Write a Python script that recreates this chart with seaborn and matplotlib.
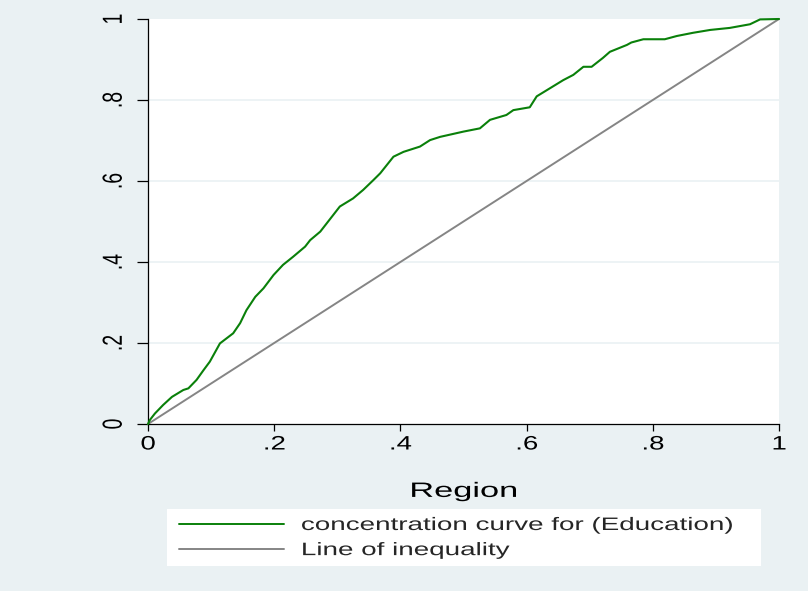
import numpy as np
import pandas as pd
import seaborn as sns
import matplotlib
matplotlib.use("Agg")
import matplotlib.pyplot as plt
from matplotlib import patheffects
from matplotlib.lines import Line2D
from matplotlib.patches import Rectangle
from matplotlib.transforms import Affine2D

# Cumulative share of population (x) vs cumulative share of education (y)
conc_x = [0, .003, .011, .024, .038, .056, .064, .077, .088, .098, .114, .135,
          .146, .156, .170, .183, .199, .214, .230, .249, .257, .273, .283,
          .304, .325, .341, .357, .368, .389, .405, .431, .447, .463, .500,
          .526, .542, .568, .579, .605, .616, .637, .658, .674, .690, .703,
          .721, .732, .759, .766, .785, .819, .838, .864, .891, .922, .954,
          .970, 1.0]
conc_y = [0, .010, .026, .047, .067, .084, .088, .109, .133, .154, .199, .224,
          .249, .281, .314, .335, .368, .393, .413, .438, .454, .475, .495,
          .537, .557, .578, .602, .619, .660, .672, .685, .701, .709, .722,
          .730, .751, .763, .775, .782, .809, .829, .849, .862, .882, .882,
          .904, .919, .936, .942, .950, .950, .958, .966, .973, .978, .987,
          .999, 1.0]
equal_x = [0, 1]
equal_y = [0, 1]

tick_values = [0, .2, .4, .6, .8, 1]
tick_labels = ["0", ".2", ".4", ".6", ".8", "1"]
x_title = "Region"
series_labels = ["concentration curve for (Education)", "Line of inequality"]

BG = "#EAF1F3"
GREEN = "#0A800A"
GRAY = "#858585"


class WideText(patheffects.AbstractPathEffect):
    """Draw text glyphs widened horizontally about a chosen anchor."""

    def __init__(self, sx, anchor="center"):
        super().__init__()
        self.sx = sx
        self.anchor = anchor

    def draw_path(self, renderer, gc, tpath, affine, rgbFace=None):
        verts = affine.transform(tpath.vertices) if len(tpath.vertices) else None
        if verts is None:
            renderer.draw_path(gc, tpath, affine, rgbFace)
            return
        x0, x1 = verts[:, 0].min(), verts[:, 0].max()
        cx = {"left": x0, "right": x1}.get(self.anchor, (x0 + x1) / 2)
        wide = affine + Affine2D().translate(-cx, 0).scale(self.sx, 1).translate(cx, 0)
        renderer.draw_path(gc, tpath, wide, rgbFace)


sns.set_theme(style="ticks")
plt.rcParams["font.family"] = ["Liberation Sans", "DejaVu Sans"]

W, H = 808, 591
fig = plt.figure(figsize=(W / 100, H / 100), dpi=100, facecolor=BG)
ax = fig.add_axes([148 / W, 1 - 424 / H, 631 / W, 405 / H])
ax.set_facecolor("white")

df_conc = pd.DataFrame({"p": conc_x, "L": conc_y})
df_eq = pd.DataFrame({"p": equal_x, "L": equal_y})

for yv in tick_values[1:-1]:
    ax.axhline(yv, color=BG, lw=1.2, zorder=0.5)

sns.lineplot(data=df_conc, x="p", y="L", ax=ax, color=GREEN, lw=1.5,
             sort=False, estimator=None, clip_on=False, zorder=3)
sns.lineplot(data=df_eq, x="p", y="L", ax=ax, color=GRAY, lw=1.4,
             sort=False, estimator=None, clip_on=False, zorder=2)

ax.set_xlim(0, 1)
ax.set_ylim(0, 1)
ax.set_xticks(tick_values, labels=tick_labels)
ax.set_yticks(tick_values, labels=tick_labels)
ax.set_ylabel("")

for side in ("top", "right"):
    ax.spines[side].set_visible(False)
for side in ("left", "bottom"):
    ax.spines[side].set_color("black")
    ax.spines[side].set_linewidth(0.9)

ax.tick_params(axis="x", length=5, width=0.9, color="black", pad=4,
               labelsize=14, labelcolor="black")
ax.tick_params(axis="y", length=8, width=0.9, color="black", pad=8,
               labelsize=14, labelcolor="black")
plt.setp(ax.get_xticklabels(), path_effects=[WideText(1.42, "center")])
plt.setp(ax.get_yticklabels(), rotation=90, va="center", ha="right",
         path_effects=[WideText(1.42, "right")])

ax.set_xlabel(x_title, fontsize=15, color="black")
ax.xaxis.set_label_coords(0.5, -0.143)
ax.xaxis.label.set_path_effects([WideText(1.65, "center")])

# legend panel below the plot
fig.patches.append(Rectangle((167 / W, 1 - 566 / H), (761 - 167) / W, 57 / H,
                             transform=fig.transFigure, facecolor="white",
                             edgecolor="none", zorder=0))
handles = [Line2D([], [], color=GREEN, lw=1.4), Line2D([], [], color=GRAY, lw=1.4)]
leg = fig.legend(handles, series_labels, loc="upper left",
                 bbox_to_anchor=(179 / W, 1 - 517 / H), frameon=False,
                 fontsize=13, borderpad=0, borderaxespad=0,
                 handlelength=5.8, handletextpad=0.95, labelspacing=0.45)
for t in leg.get_texts():
    t.set_path_effects([WideText(1.54, "left")])

fig.savefig("out.png", dpi=100, facecolor=BG)
